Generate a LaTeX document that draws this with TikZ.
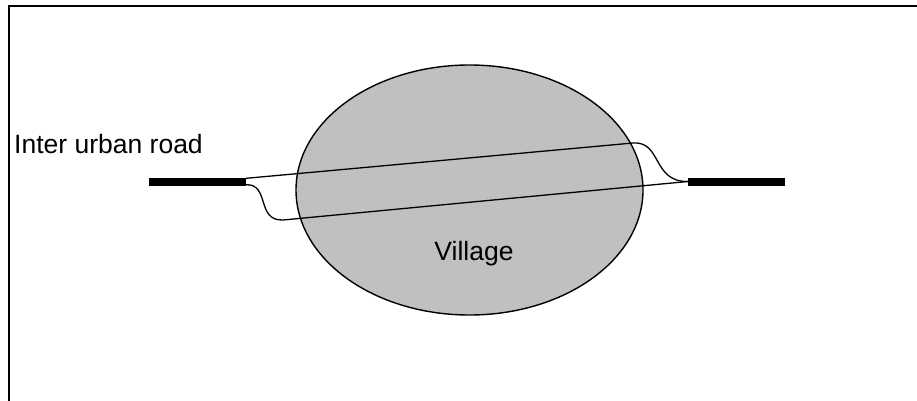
\documentclass[tikz,border=0pt]{standalone}
\usepackage{fontspec}
\setmainfont{Liberation Sans}
\usepackage{tikz}
\usetikzlibrary{shapes.geometric}
\definecolor{towngray}{HTML}{C0C0C0}
\tikzset{
  town/.style={draw, ellipse, fill=towngray, line width=1.4pt,
               minimum width=347pt, minimum height=250pt, inner sep=0pt},
  road/.style={fill=black, minimum width=97pt, minimum height=8pt, inner sep=0pt}, % Inter urban road piece
  lbl/.style={font=\fontsize{26.5}{31}\selectfont, inner sep=0pt},
  bypass/.style={line width=1.3pt},
}

\begin{document}
\begin{tikzpicture}[x=1pt, y=-1pt]
        \useasboundingbox (0,0) rectangle (917,401);
        \draw[line width=1.8pt] (9,401) -- (9,6) -- (917,6);
        \node[town](village) at (469.5,190) {};
        \node[lbl](vname) at (474,254) {Village};
        \node[road](roadL) at (197.5,181.5) {};
        \node[road](roadR) at (736.5,181.5) {};
        \node[lbl, anchor=base west](rname) at (14,153) {Inter urban road};
        \coordinate (ur) at (633,143);
        \coordinate (ll) at (283,220);
        % through the village
        \draw[bypass] (roadL.north east) ++(0,1) -- (ur)
              .. controls (662,141) and (652,182) .. (roadR.west);
        \draw[bypass] (roadL.south east) ++(0,-1)
              .. controls (270,184) and (256,221) .. (ll) -- (roadR.west);
      \end{tikzpicture}
\end{document}
